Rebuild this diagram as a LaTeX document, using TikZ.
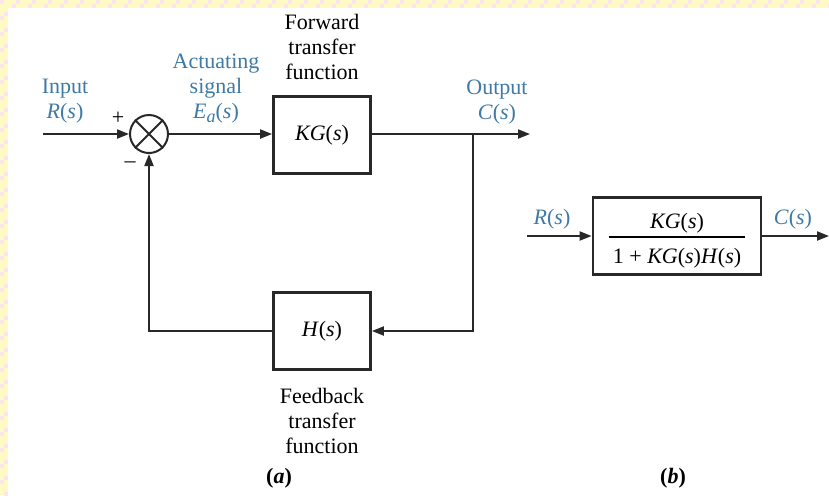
\documentclass[tikz,border=0pt]{standalone}
\usepackage{fontspec}
\setmainfont{Liberation Serif}
\usetikzlibrary{arrows.meta}
\definecolor{lbl}{RGB}{62,122,165}
\definecolor{ln}{RGB}{40,40,40}
\definecolor{bgy}{RGB}{255,249,196}
\definecolor{bgp}{RGB}{251,228,240}
\begin{document}
\begin{tikzpicture}[x=0.5pt,y=-0.5pt,
  txt/.style={font=\fontsize{11}{12.5}\selectfont, align=center, inner sep=0pt},
  lbltxt/.style={txt, text=lbl},
  blk/.style={draw=ln, line width=1.4pt, minimum width=48.5pt, minimum height=38.5pt, inner sep=0pt, font=\fontsize{11}{12.5}\selectfont},
  conn/.style={draw=ln, line width=1pt},
  arr/.style={conn, -{Triangle[length=6pt,width=4.5pt]}}]
\useasboundingbox (0,0) rectangle (829,495);
\fill[white] (0,0) rectangle (829,495);
% patterned border (top and left)
\fill[bgy] (0,0) rectangle (829,8);
\fill[bgy] (0,0) rectangle (8,495);
\foreach \i in {0,...,103}{
  \pgfmathtruncatemacro\odd{mod(\i,2)}
  \ifnum\odd=0
    \fill[bgp] (8*\i,0) rectangle (8*\i+4,4);
    \fill[bgp] (0,8*\i) rectangle (4,8*\i+4);
  \else
    \fill[bgp] (8*\i+4,4) rectangle (8*\i+8,8);
    \fill[bgp] (4,8*\i+4) rectangle (8,8*\i+8);
  \fi
}
% part (a)
\node[circle, draw=ln, line width=1pt, minimum size=19pt, inner sep=0pt] (sum) at (149,134) {};
\draw[conn] (sum.north west) -- (sum.south east) (sum.north east) -- (sum.south west);
\node[blk] (kg) at (322,135) {\textit{KG}(\textit{s})};
\node[blk] (h) at (322,331) {\textit{H}(\textit{s})};
\coordinate (in) at (43,134);
\coordinate (out) at (530,134);
\coordinate (br) at (473,134);
\draw[arr] (in) -- (sum.west);
\draw[arr] (sum.east) -- (kg.west |- sum.east);
\draw[arr] (kg.east |- br) -- (out);
\draw[arr] (br) |- (h.east);
\draw[arr] (h.west) -| (sum.south);
% labels (a)
\node[lbltxt] (linput) at (65,101) {Input\\\textit{R}(\textit{s})};
\node[lbltxt] (lact) at (216,89) {Actuating\\signal\\\textit{E}\raisebox{-0.35ex}{\fontsize{9}{9}\selectfont\textit{a}}(\textit{s})};
\node[lbltxt] (lout) at (497,102) {Output\\\textit{C}(\textit{s})};
\node[txt] (lfwd) at (322,47) {Forward\\transfer\\function};
\node[txt] (lfb) at (322,421) {Feedback\\transfer\\function};
\node[txt] (lplus) at (118,118) {+};
\node[txt] (lminus) at (130,165) {\textendash};
\node[txt] (la) at (279,478) {\textbf{(\textit{a})}};
% part (b)
\node[blk, minimum width=84pt] (tf) at (677,236) {};
\node[txt] (frac) at (677,241) {\setlength{\arrayrulewidth}{0.8pt}\begin{tabular}{@{\hspace{2pt}}c@{\hspace{2pt}}}\textit{KG}(\textit{s})\\[0pt]\hline\rule{0pt}{13pt}1 + \textit{KG}(\textit{s})\textit{H}(\textit{s})\end{tabular}};
\coordinate (rin) at (527,236);
\coordinate (cout) at (829,236);
\draw[arr] (rin) -- (tf.west);
\draw[arr] (tf.east) -- (cout);
\node[lbltxt] (lr) at (552,219) {\textit{R}(\textit{s})};
\node[lbltxt] (lc) at (793,219) {\textit{C}(\textit{s})};
\node[txt] (lb) at (673,478) {\textbf{(\textit{b})}};
\end{tikzpicture}
\end{document}
